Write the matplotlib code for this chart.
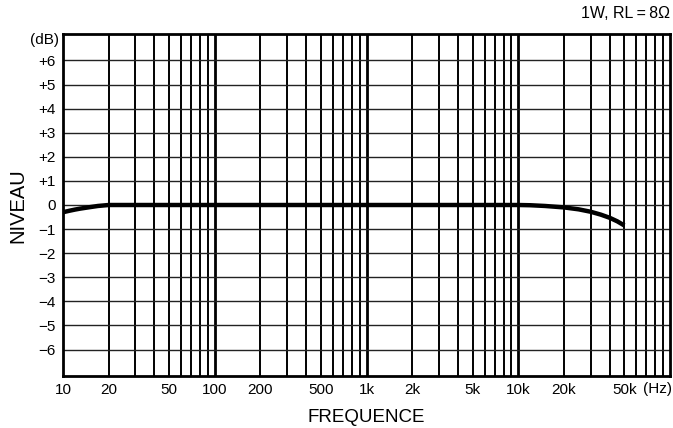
import numpy as np
import matplotlib
matplotlib.use("Agg")
import matplotlib.pyplot as plt
from matplotlib.ticker import FixedLocator, NullFormatter

plt.rcParams['font.family'] = ['Liberation Sans', 'DejaVu Sans']

# frequency response (Hz, dB)
freq = [10, 11, 12, 13, 15, 17, 20, 30, 50, 100, 1000, 10000,
        12000, 15000, 20000, 25000, 30000, 35000, 40000, 45000, 50000]
level = [-0.3, -0.24, -0.19, -0.15, -0.09, -0.04, 0.0, 0.0, 0.0, 0.0, 0.0, 0.0,
         -0.01, -0.04, -0.1, -0.18, -0.28, -0.4, -0.53, -0.68, -0.85]

xtick_vals = [10, 20, 50, 100, 200, 500, 1000, 2000, 5000, 10000, 20000, 50000]
xtick_labels = ["10", "20", "50", "100", "200", "500", "1k", "2k", "5k", "10k", "20k", "50k"]
ytick_vals = [6, 5, 4, 3, 2, 1, 0, -1, -2, -3, -4, -5, -6]
ytick_labels = ["+6", "+5", "+4", "+3", "+2", "+1", "0",
                "\u22121", "\u22122", "\u22123", "\u22124", "\u22125", "\u22126"]

fig = plt.figure(figsize=(6.73, 4.28), dpi=100)
ax = fig.add_axes([63 / 673, 52 / 428, 607 / 673, 342 / 428])

ax.set_xscale("log")
ax.set_xlim(10, 100000)
ax.set_ylim(-7.1, 7.1)

# grid: every log step vertically, every dB horizontally
grid_x = [m * 10 ** d for d in range(1, 5) for m in range(1, 10)]
for gx in grid_x:
    lw = 2.0 if gx in (100, 1000, 10000) else 1.4
    ax.axvline(gx, color="black", lw=lw, zorder=1)
for gy in ytick_vals:
    ax.axhline(gy, color="#222222", lw=1.0, zorder=1)

ax.plot(freq, level, color="black", lw=3.2, solid_capstyle="butt", zorder=3)

for s in ax.spines.values():
    s.set_linewidth(2)

ax.xaxis.set_major_locator(FixedLocator(xtick_vals))
ax.xaxis.set_minor_formatter(NullFormatter())
ax.set_xticklabels(xtick_labels)
ax.set_yticks(ytick_vals)
ax.set_yticklabels(ytick_labels)
ax.tick_params(axis="both", which="both", length=0, labelsize=11)
ax.tick_params(axis="x", pad=5)
ax.tick_params(axis="y", pad=5)

ax.text(-0.006, 6.85, "(dB)", transform=ax.get_yaxis_transform(),
        ha="right", va="center", fontsize=11)
fig.text(672 / 673, 1 - 389 / 428, "(Hz)", ha="right", va="center", fontsize=11)

fig.text(366 / 673, 1 - 417 / 428, "FREQUENCE", ha="center", va="center", fontsize=13.5)
fig.text(18 / 673, 1 - 206 / 428, "NIVEAU", ha="center", va="center",
         rotation=90, fontsize=14.5)
fig.text(670 / 673, 1 - 14 / 428, "1W, RL\u2009=\u20098\u03a9", ha="right", va="center", fontsize=11.5)

fig.savefig("out.png", dpi=100)
